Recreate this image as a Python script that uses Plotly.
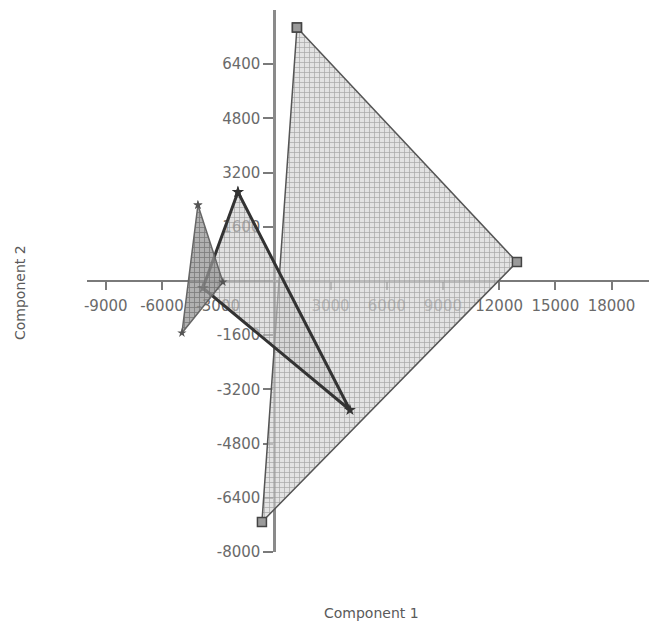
import plotly.graph_objects as go

# Group hull vertices (Component 1, Component 2)
g1_x = [1207, 12950, -662]
g1_y = [7483, 561, -7114]
g2_x = [-1943, 4036, -3812]
g2_y = [2627, -3808, -207]
g3_x = [-4079, -2744, -4933]
g3_y = [2244, -30, -1535]

x_ticks = [-9000, -6000, -3000, 3000, 6000, 9000, 12000, 15000, 18000]
y_ticks = [-8000, -6400, -4800, -3200, -1600, 1600, 3200, 4800, 6400]

def closed(v):
    return list(v) + [v[0]]

fig = go.Figure()

fig.add_trace(go.Scatter(
    x=closed(g1_x), y=closed(g1_y), mode="lines+markers", fill="toself",
    fillcolor="rgba(205,205,205,0.75)",
    fillpattern=dict(shape="+", bgcolor="rgba(215,215,215,0.7)", fgcolor="rgba(150,150,150,0.8)",
                     size=5, solidity=0.25, fillmode="replace"),
    line=dict(color="#555555", width=1.5),
    marker=dict(symbol="square", size=9, color="#9a9a9a", line=dict(color="#444444", width=1.5)),
    showlegend=False, hoverinfo="skip"))

fig.add_trace(go.Scatter(
    x=closed(g2_x), y=closed(g2_y), mode="lines+markers", fill="toself",
    fillpattern=dict(shape="+", bgcolor="rgba(205,205,205,0.6)", fgcolor="rgba(140,140,140,0.8)",
                     size=5, solidity=0.25, fillmode="replace"),
    line=dict(color="#333333", width=3),
    marker=dict(symbol="star", size=9, color="#333333"),
    showlegend=False, hoverinfo="skip"))

fig.add_trace(go.Scatter(
    x=closed(g3_x), y=closed(g3_y), mode="lines+markers", fill="toself",
    fillpattern=dict(shape="+", bgcolor="rgba(150,150,150,0.75)", fgcolor="rgba(110,110,110,0.8)",
                     size=5, solidity=0.3, fillmode="replace"),
    line=dict(color="#666666", width=1.5),
    marker=dict(symbol="star", size=7, color="#555555"),
    showlegend=False, hoverinfo="skip"))

tick_font = dict(family="DejaVu Sans", size=15, color="#6a6a6a")

fig.update_layout(
    width=656, height=624,
    margin=dict(l=87, r=7, t=10, b=72),
    paper_bgcolor="white", plot_bgcolor="white",
    xaxis=dict(range=[-10000, 20000], anchor="free", position=0.5,
               tickvals=x_ticks, ticktext=[str(v) for v in x_ticks],
               showgrid=False, zeroline=False, showline=True, linecolor="#7a7a7a", linewidth=2,
               ticks="outside", ticklen=8, tickwidth=2, tickcolor="#7a7a7a",
               ticklabelstandoff=3,
               tickfont=tick_font, layer="below traces"),
    yaxis=dict(range=[-8000, 8000], anchor="free", position=1/3,
               tickvals=y_ticks, ticktext=[str(v) for v in y_ticks],
               showgrid=False, zeroline=False, showline=True, linecolor="#8a8a8a", linewidth=3,
               ticks="outside", ticklen=10, tickwidth=2, tickcolor="#7a7a7a",
               tickfont=tick_font, layer="below traces"),
    annotations=[
        dict(text="Component 1", xref="paper", yref="paper", x=(371-87)/562, y=-(613-552)/542,
             showarrow=False, font=dict(family="DejaVu Sans", size=14, color="#5a5a5a"),
             xanchor="center", yanchor="middle"),
        dict(text="Component 2", xref="paper", yref="paper", x=-(87-20)/562, y=(552-293)/542,
             showarrow=False, textangle=-90, font=dict(family="DejaVu Sans", size=14, color="#5a5a5a"),
             xanchor="center", yanchor="middle"),
    ],
)

fig.write_html("out.html", config={"displayModeBar": False},
               post_script="document.body.style.margin='0';")
